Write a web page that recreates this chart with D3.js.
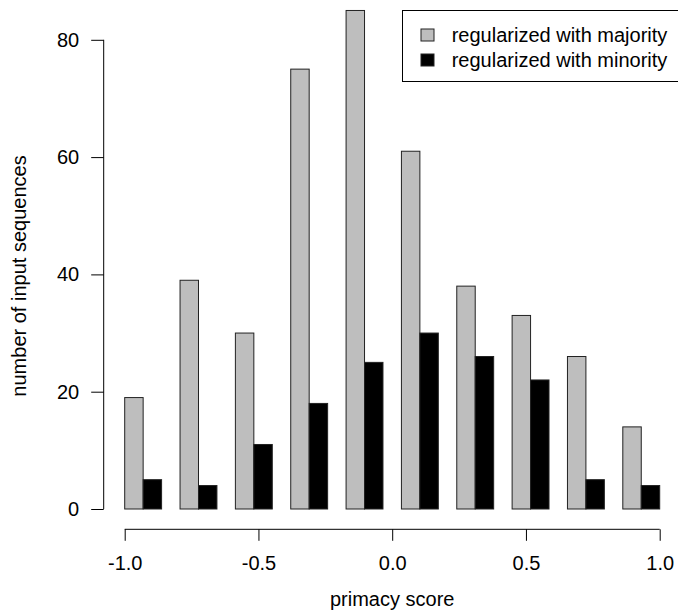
<!DOCTYPE html>
<html>
<head>
<meta charset="utf-8">
<script src="https://cdn.jsdelivr.net/npm/d3@7"></script>
<style>
html,body{margin:0;padding:0;background:#fff;}
svg{display:block;font-family:"Liberation Sans",Arial,Helvetica,sans-serif;}
</style>
</head>
<body>
<svg id="chart" width="678" height="610"></svg>
<script>
const groups = [0,1,2,3,4,5,6,7,8,9];
const majority = [19, 39, 30, 75, 85, 61, 38, 33, 26, 14];
const minority = [5, 4, 11, 18, 25, 30, 26, 22, 5, 4];
const seriesNames = ["regularized with majority", "regularized with minority"];
const seriesColors = ["#bebebe", "#000000"];
const yTicks = [0, 20, 40, 60, 80];
const xTicks = [-1.0, -0.5, 0.0, 0.5, 1.0];

const svg = d3.select("#chart");
const fs = 20;

// bar position scale in barplot units (space 1, width 1 per bar)
const xu = d3.scaleLinear().domain([1, 30]).range([124.7, 659.7]);
const xs = d3.scaleLinear().domain([-1, 1]).range([124.7, 659.7]);
const y = d3.scaleLinear().domain([0, 80]).range([509, 39.8]);
const bw = xu(2) - xu(1);

// bars
const g = svg.append("g");
groups.forEach((d, i) => {
  const left = 1 + 3 * i;
  [majority[i], minority[i]].forEach((v, s) => {
    g.append("rect")
      .attr("x", xu(left + s))
      .attr("y", y(v))
      .attr("width", bw)
      .attr("height", y(0) - y(v))
      .attr("fill", seriesColors[s])
      .attr("stroke", "#222")
      .attr("stroke-width", 1);
  });
});

// y axis
const yAxis = d3.axisLeft(y).tickValues(yTicks).tickSize(12.5).tickPadding(12).tickFormat(d3.format("d"));
const ya = svg.append("g").attr("transform", "translate(103.7,0)").call(yAxis);
ya.select(".domain").attr("d", `M0,${y(0)}V${y(80)}`).attr("stroke", "#000");
ya.selectAll("text").attr("font-size", fs).attr("font-family", "Liberation Sans, Arial, sans-serif").attr("fill", "#000");
ya.selectAll("line").attr("stroke", "#000");

// x axis
const xAxis = d3.axisBottom(xs).tickValues(xTicks).tickSize(11.5).tickPadding(15).tickFormat(d => d.toFixed(1));
const xa = svg.append("g").attr("transform", "translate(0,529.3)").call(xAxis);
xa.select(".domain").attr("d", `M${xs(-1)},0H${xs(1)}`).attr("stroke", "#000");
xa.selectAll("text").attr("font-size", fs).attr("font-family", "Liberation Sans, Arial, sans-serif").attr("fill", "#000");
xa.selectAll("line").attr("stroke", "#000");

// axis titles
svg.append("text")
  .attr("x", xs(0)).attr("y", 606)
  .attr("text-anchor", "middle")
  .attr("font-size", fs)
  .text("primacy score");
svg.append("text")
  .attr("transform", "translate(26,276) rotate(-90)")
  .attr("text-anchor", "middle")
  .attr("font-size", fs)
  .text("number of input sequences");

// legend
const lg = svg.append("g");
lg.append("rect").attr("x", 402.5).attr("y", 10.5).attr("width", 290).attr("height", 71)
  .attr("fill", "#fff").attr("stroke", "#000").attr("stroke-width", 1);
seriesNames.forEach((n, i) => {
  const cy = 35 + i * 25;
  lg.append("rect").attr("x", 421).attr("y", cy - 6).attr("width", 13).attr("height", 12)
    .attr("fill", seriesColors[i]).attr("stroke", "#222").attr("stroke-width", 1);
  lg.append("text").attr("x", 451.7).attr("y", cy).attr("dy", "0.35em")
    .attr("font-size", fs).text(n);
});
</script>
</body>
</html>
